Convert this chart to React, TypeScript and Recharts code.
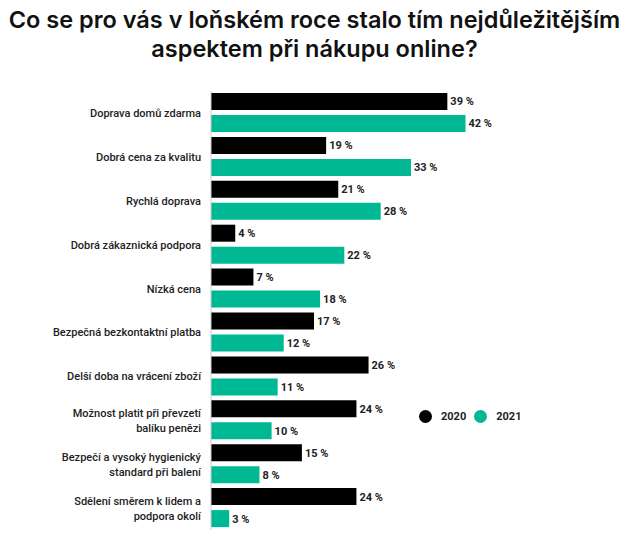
import React from "react";
import { BarChart, Bar, XAxis, YAxis, LabelList } from "recharts";

const categories = [
  "Doprava domů zdarma",
  "Dobrá cena za kvalitu",
  "Rychlá doprava",
  "Dobrá zákaznická podpora",
  "Nízká cena",
  "Bezpečná bezkontaktní platba",
  "Delší doba na vrácení zboží",
  "Možnost platit při převzetí\nbalíku penězi",
  "Bezpečí a vysoký hygienický\nstandard při balení",
  "Sdělení směrem k lidem a\npodpora okolí",
];
const values2020 = [39, 19, 21, 4, 7, 17, 26, 24, 15, 24];
const values2021 = [42, 33, 28, 22, 18, 12, 11, 10, 8, 3];
const seriesNames = ["2020", "2021"];

const BLACK = "#000000";
const TEAL = "#00b894";

const data = categories.map((name, i) => ({
  name,
  y2020: values2020[i],
  y2021: values2021[i],
}));

const CategoryTick = (props: any) => {
  const { x, y, payload } = props;
  const lines = String(payload.value).split("\n");
  const lh = 15;
  const start = y - ((lines.length - 1) * lh) / 2;
  return (
    <text
      x={x}
      y={start}
      textAnchor="end"
      dominantBaseline="central"
      fill="#222"
      fontSize={11}
      fontWeight={500}
      fontFamily="Roboto, sans-serif"
    >
      {lines.map((l, i) => (
        <tspan key={i} x={x} y={start + i * lh}>
          {l}
        </tspan>
      ))}
    </text>
  );
};

const labelStyle = {
  fill: "#222",
  fontSize: 11,
  fontWeight: 700,
  fontFamily: "Roboto, sans-serif",
};

export default function App() {
  return (
    <div
      style={{
        position: "absolute",
        left: 0,
        top: 0,
        width: 629,
        height: 557,
        background: "#fff",
      }}
    >
      <div
        style={{
          position: "absolute",
          left: 0,
          top: 5,
          width: 629,
          textAlign: "center",
          fontSize: 23.5,
          fontWeight: 600,
          lineHeight: "29px",
          color: "#111",
          fontFamily: "Inter, sans-serif",
        }}
      >
        Co se pro vás v loňském roce stalo tím nejdůležitějším
        <br />
        aspektem při nákupu online?
      </div>
      <div style={{ position: "absolute", left: 0, top: 0 }}>
        <BarChart
          width={629}
          height={557}
          data={data}
          layout="vertical"
          margin={{ top: 91, right: 115, bottom: 27, left: 0 }}
          barSize={17}
          barGap={5}
        >
          <XAxis type="number" domain={[0, 50]} hide />
          <YAxis
            type="category"
            dataKey="name"
            width={211}
            axisLine={{ stroke: "#cccccc" }}
            tickLine={false}
            tickSize={8}
            tick={<CategoryTick />}
            interval={0}
          />
          <Bar dataKey="y2020" name={seriesNames[0]} fill={BLACK} isAnimationActive={false}>
            <LabelList
              dataKey="y2020"
              position="right"
              offset={3}
              formatter={(v: any) => `${v} %`}
              style={labelStyle}
            />
          </Bar>
          <Bar dataKey="y2021" name={seriesNames[1]} fill={TEAL} isAnimationActive={false}>
            <LabelList
              dataKey="y2021"
              position="right"
              offset={3}
              formatter={(v: any) => `${v} %`}
              style={labelStyle}
            />
          </Bar>
        </BarChart>
      </div>
      <div
        style={{
          position: "absolute",
          left: 419,
          top: 410,
          display: "flex",
          alignItems: "center",
          fontFamily: "Roboto, sans-serif",
          fontSize: 11,
          fontWeight: 700,
          color: "#222",
        }}
      >
        {seriesNames.map((s, i) => (
          <div key={s} style={{ display: "flex", alignItems: "center", marginRight: 8 }}>
            <span
              style={{
                display: "inline-block",
                width: 13,
                height: 13,
                borderRadius: 7,
                background: i === 0 ? BLACK : TEAL,
                marginRight: 9,
              }}
            />
            {s}
          </div>
        ))}
      </div>
    </div>
  );
}
